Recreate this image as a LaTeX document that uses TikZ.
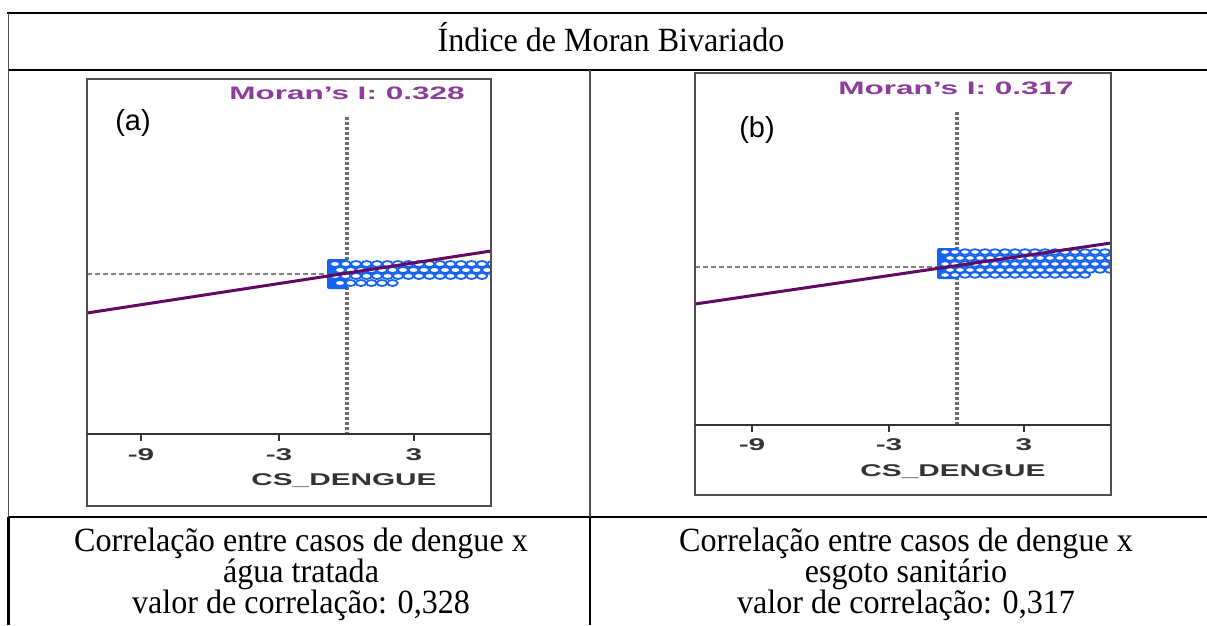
\documentclass[tikz,border=0pt]{standalone}
\usepackage{fontspec}
\setmainfont{Liberation Serif}
\setsansfont{Liberation Sans}
\definecolor{moranpurple}{HTML}{8B3D99}
\definecolor{slopepurple}{HTML}{620A62}
\definecolor{pointblue}{HTML}{1663F2}
\definecolor{framegray}{HTML}{505050}
\definecolor{axisgray}{HTML}{333333}
\definecolor{meangray}{HTML}{6E6E6E}
\newcommand{\widetext}[1]{\scalebox{1.75}[1]{#1}}
\newcommand{\talltext}[1]{\scalebox{1.07}[1.13]{#1}}
\tikzset{
  tabline/.style={line width=2.5pt, black},
  thinline/.style={line width=1.5pt, framegray},
  plotframe/.style={line width=1.6pt, framegray},
  meanx/.style={line width=3.2pt, meangray, dash pattern=on 3pt off 2pt},
  meany/.style={line width=1.2pt, gray, dash pattern=on 5pt off 3pt},
  slope/.style={line width=3pt, slopepurple},
  dot/.style={line width=1.8pt, pointblue, fill=white},
  celltext/.style={anchor=base, inner sep=0pt, font=\fontsize{30}{30}\selectfont},
  moran/.style={inner sep=0pt, text=moranpurple, font=\sffamily\bfseries\fontsize{18}{18}\selectfont},
  ticklab/.style={inner sep=0pt, text=axisgray, font=\sffamily\bfseries\fontsize{17}{17}\selectfont},
  panel/.style={inner sep=0pt, font=\sffamily\fontsize{29}{29}\selectfont}
}
\begin{document}
\begin{tikzpicture}[x=1pt, y=-1pt]
\useasboundingbox (0,0) rectangle (1207,625);
\fill[white] (0,0) rectangle (1207,625);
% table
\draw[tabline] (7,13)--(1207,13);
\draw[line width=2.2pt] (8,70)--(1207,70);
\draw[tabline] (8,517)--(1207,517);
\draw[thinline] (8.5,13)--(8.5,517);
\draw[line width=2.8pt] (8.5,517)--(8.5,625);
\draw[thinline] (590,70)--(590,517);
\draw[line width=2.8pt] (590,517)--(590,625);
\node[celltext] (titulo) at (611,51) {\talltext{Índice de Moran Bivariado}};
\node[celltext] (agua1) at (301,551) {\talltext{Correlação entre casos de dengue x}};
\node[celltext] (agua2) at (301,582) {\talltext{água tratada}};
\node[celltext] (agua3) at (301,613) {\talltext{valor de correlação: 0,328}};
\node[celltext] (esgoto1) at (906,551) {\talltext{Correlação entre casos de dengue x}};
\node[celltext] (esgoto2) at (906,582) {\talltext{esgoto sanitário}};
\node[celltext] (esgoto3) at (906,613) {\talltext{valor de correlação: 0,317}};
% panel (a)
\draw[meany] (87,274)--(491,274);
\draw[meanx] (347,117)--(347,434);
\begin{scope}
\clip (87,79) rectangle (491,506);
\fill[pointblue, rounded corners=2pt] (327,259) rectangle (348,289);
\foreach \y/\n/\s in {264/15/0, 270/15/5, 276/14/0, 283/5/5}
  \foreach \i in {0,...,\n}
    \draw[dot] (335+\s+\i*10.5,\y) ellipse[x radius=5.2, y radius=3];
\end{scope}
\draw[slope] (87,313)--(491,251);
\draw[plotframe] (87,79) rectangle (491,506);
\draw[line width=2pt, axisgray] (87,434)--(491,434);
\foreach \x in {141,279,414}
  \draw[line width=2.5pt, axisgray] (\x,434)--(\x,441);
\node[moran] (moranA) at (347,93) {\widetext{Moran's I: 0.328}};
\node[panel] (letraA) at (133,123) {(a)};
\node[ticklab] (tA1) at (141,455) {\widetext{-9}};
\node[ticklab] (tA2) at (279,455) {\widetext{-3}};
\node[ticklab] (tA3) at (414,455) {\widetext{3}};
\node[ticklab] (eixoA) at (344,481) {\widetext{CS\_DENGUE}};
% panel (b)
\draw[meany] (695,267)--(1111,267);
\draw[meanx] (957,112)--(957,425);
\begin{scope}
\clip (695,73) rectangle (1111,495);
\fill[pointblue, rounded corners=2pt] (937,248) rectangle (958,279);
\foreach \y/\n/\s in {252/16/0, 258/16/5, 264/16/0, 270/16/5, 275/14/0}
  \foreach \i in {0,...,\n}
    \draw[dot] (945+\s+\i*10,\y) ellipse[x radius=5, y radius=2.8];
\end{scope}
\draw[slope] (695,304)--(1111,243);
\draw[plotframe] (695,73) rectangle (1111,495);
\draw[line width=2pt, axisgray] (695,425)--(1111,425);
\foreach \x in {752,889,1024}
  \draw[line width=2.5pt, axisgray] (\x,425)--(\x,432);
\node[moran] (moranB) at (956,88) {\widetext{Moran's I: 0.317}};
\node[panel] (letraB) at (757,130) {(b)};
\node[ticklab] (tB1) at (752,445) {\widetext{-9}};
\node[ticklab] (tB2) at (889,445) {\widetext{-3}};
\node[ticklab] (tB3) at (1024,445) {\widetext{3}};
\node[ticklab] (eixoB) at (953,472) {\widetext{CS\_DENGUE}};
\end{tikzpicture}
\end{document}
